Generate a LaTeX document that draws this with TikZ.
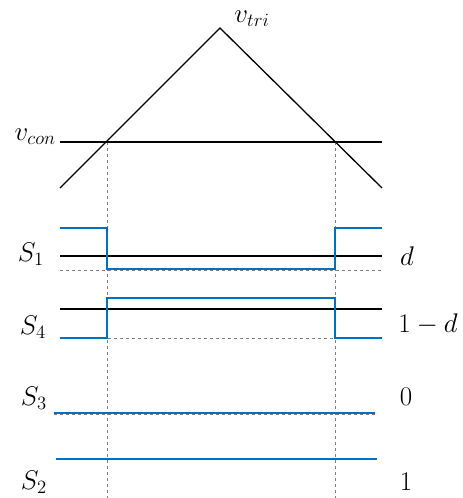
\documentclass[tikz,border=0pt]{standalone}
\usepackage{amsmath}
\usepackage{tikz}
\definecolor{swblue}{RGB}{0,112,192}

\begin{document}
\begin{tikzpicture}[x=1pt, y=-1pt,
    wave/.style = {draw=swblue, line width=1.3pt},
    carrier/.style = {draw=black, line width=1.3pt},
    guide/.style = {draw=gray, dashed, line width=0.8pt},
    lbl/.style = {font=\huge, inner sep=0pt, scale=1.3}]
        \useasboundingbox (0,0) rectangle (463,498);
        % carrier and reference
        \coordinate (tl) at (60,188);
        \coordinate (peak) at (220,28);
        \coordinate (tr) at (382,188);
        \coordinate (cl) at (60,142);
        \coordinate (cr) at (382,142);
        \coordinate (xa) at (107,142);
        \coordinate (xb) at (335,142);
        \draw[guide] (xa) -- (107,498);
        \draw[guide] (xb) -- (335,498);
        \draw[carrier] (tl) -- (peak) -- (tr);
        \draw[carrier] (cl) -- (cr);
        \node[lbl] (vtri) at (252,19) {$v_{tri}$};
        \node[lbl, anchor=east] (vcon) at (56,137) {$v_{con}$};
        % S1
        \draw[guide] (60,270) -- (382,270);
        \draw[carrier] (60,256) -- (382,256);
        \draw[wave] (60,228) -- (107,228) -- (107,269) -- (335,269) -- (335,228) -- (382,228);
        \node[lbl] (s1) at (31,254) {$S_1$};
        \node[lbl] (d1) at (407,256) {$d$};
        % S4
        \draw[guide] (60,338) -- (382,338);
        \draw[carrier] (60,309) -- (382,309);
        \draw[wave] (60,338) -- (107,338) -- (107,298) -- (335,298) -- (335,338) -- (382,338);
        \node[lbl] (s4) at (33,327) {$S_4$};
        \node[lbl] (d4) at (428,324) {$1-d$};
        % S3
        \draw[guide] (54,414) -- (375,414);
        \draw[wave] (54,413) -- (375,413);
        \node[lbl] (s3) at (34,398) {$S_3$};
        \node[lbl] (z3) at (406,397) {$0$};
        % S2
        \draw[wave] (56,459) -- (377,459);
        \node[lbl] (s2) at (34,482) {$S_2$};
        \node[lbl] (o2) at (406,482) {$1$};
      \end{tikzpicture}
\end{document}
